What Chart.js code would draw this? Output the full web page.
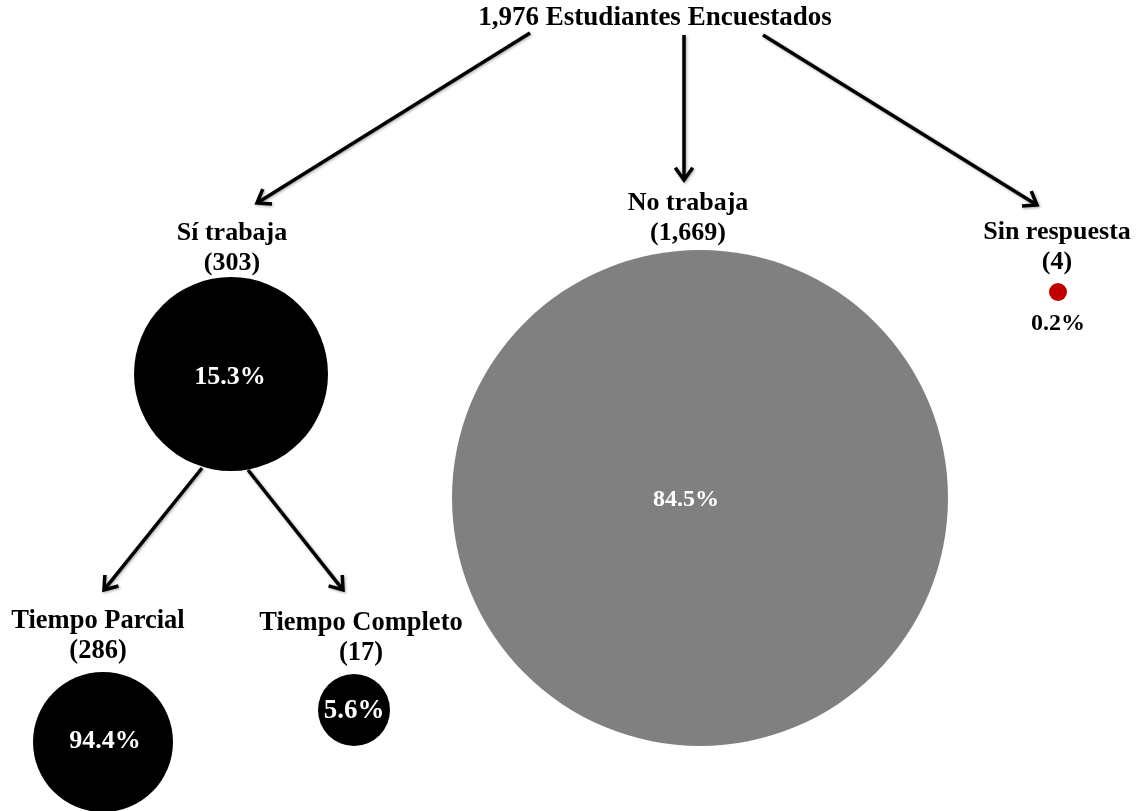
<!DOCTYPE html>
<html>
<head>
<meta charset="utf-8">
<script src="https://cdn.jsdelivr.net/npm/chart.js@4"></script>
<style>
  html, body { margin: 0; padding: 0; background: #ffffff; }
  #wrap { width: 1140px; height: 811px; position: relative; }
</style>
</head>
<body>
<div id="wrap"><canvas id="c"></canvas></div>
<script>
// ---- data ----
const titleTotal = 1976;
const titleText = 'Estudiantes Encuestados';
const categories = ['Sí trabaja', 'No trabaja', 'Sin respuesta', 'Tiempo Parcial', 'Tiempo Completo'];
const counts = [303, 1669, 4, 286, 17];
const percents = ['15.3%', '84.5%', '0.2%', '94.4%', '5.6%'];

// ---- layout (positions / sizes / styles) ----
const W = 1140, H = 811;
const nodeLayout = [
  { cx: 231, cy: 374, r: 97,  color: '#000000', lx: 232, ly: 233, px: 230, py: 377, pc: '#ffffff', fs: 26, ps: 26 },
  { cx: 700, cy: 498, r: 248, color: '#808080', lx: 688, ly: 203, px: 686, py: 500, pc: '#ffffff', fs: 26, ps: 24 },
  { cx: 1058, cy: 292, r: 9,  color: '#c00000', lx: 1057, ly: 232, px: 1058, py: 324, pc: '#000000', fs: 26, ps: 24 },
  { cx: 103, cy: 742, r: 70,  color: '#000000', lx: 98,  ly: 621, px: 105, py: 741, pc: '#ffffff', fs: 26.5, ps: 26 },
  { cx: 354, cy: 710, r: 36,  color: '#000000', lx: 361, ly: 623, px: 354, py: 711, pc: '#ffffff', fs: 26.5, ps: 27 }
];
const titlePos = { x: 655, y: 18, fs: 27 };
const arrows = [
  [530, 33, 257, 203],
  [684, 35, 684, 180],
  [763, 35, 1037, 205],
  [202, 468, 104, 590],
  [248, 470, 343, 590]
];
const fontOf = s => 'bold ' + s + 'px "Liberation Serif", "Times New Roman", serif';
const LINE_GAP = 30;

const fmt = n => n.toLocaleString('en-US');

const overlay = {
  id: 'overlay',
  afterDatasetsDraw(chart) {
    const ctx = chart.ctx;
    const xs = chart.scales.x, ys = chart.scales.y;
    const X = v => xs.getPixelForValue(v);
    const Y = v => ys.getPixelForValue(v);
    ctx.save();
    // arrows
    ctx.strokeStyle = '#000000';
    ctx.lineWidth = 3.5;
    ctx.lineCap = 'butt';
    ctx.lineJoin = 'miter';
    ctx.shadowColor = 'rgba(0,0,0,0.35)';
    ctx.shadowBlur = 3;
    ctx.shadowOffsetX = 1;
    ctx.shadowOffsetY = 1;
    arrows.forEach(a => {
      const x1 = X(a[0]), y1 = Y(a[1]), x2 = X(a[2]), y2 = Y(a[3]);
      const ang = Math.atan2(y2 - y1, x2 - x1);
      ctx.beginPath();
      ctx.moveTo(x1, y1);
      ctx.lineTo(x2 - Math.cos(ang) * 2, y2 - Math.sin(ang) * 2);
      ctx.stroke();
      const hl = 15, ha = 0.62;
      ctx.beginPath();
      ctx.moveTo(x2 - hl * Math.cos(ang - ha), y2 - hl * Math.sin(ang - ha));
      ctx.lineTo(x2, y2);
      ctx.lineTo(x2 - hl * Math.cos(ang + ha), y2 - hl * Math.sin(ang + ha));
      ctx.stroke();
    });
    ctx.shadowColor = 'transparent';
    ctx.shadowBlur = 0;
    ctx.shadowOffsetX = 0;
    ctx.shadowOffsetY = 0;
    // text
    ctx.textAlign = 'center';
    ctx.textBaseline = 'middle';
    ctx.fillStyle = '#000000';
    ctx.font = fontOf(titlePos.fs);
    ctx.fillText(fmt(titleTotal) + ' ' + titleText, X(titlePos.x), Y(titlePos.y));
    categories.forEach((cat, i) => {
      const L = nodeLayout[i];
      ctx.font = fontOf(L.fs);
      ctx.fillStyle = '#000000';
      ctx.fillText(cat, X(L.lx), Y(L.ly));
      ctx.fillText('(' + fmt(counts[i]) + ')', X(L.lx), Y(L.ly + LINE_GAP));
      ctx.font = fontOf(L.ps);
      ctx.fillStyle = L.pc;
      ctx.fillText(percents[i], X(L.px), Y(L.py));
    });
    ctx.restore();
  }
};

const canvas = document.getElementById('c');
canvas.width = W; canvas.height = H;
new Chart(canvas, {
  type: 'bubble',
  data: {
    datasets: [{
      data: categories.map((c, i) => ({ x: nodeLayout[i].cx, y: nodeLayout[i].cy, r: nodeLayout[i].r })),
      backgroundColor: nodeLayout.map(l => l.color),
      borderWidth: 0,
      hoverBorderWidth: 0,
      hoverRadius: 0,
      clip: false
    }]
  },
  options: {
    responsive: false,
    animation: false,
    devicePixelRatio: 1,
    layout: { padding: 0, autoPadding: false },
    plugins: { legend: { display: false }, tooltip: { enabled: false } },
    events: [],
    scales: {
      x: { type: 'linear', min: 0, max: W, display: false },
      y: { type: 'linear', min: 0, max: H, reverse: true, display: false }
    }
  },
  plugins: [overlay]
});
</script>
</body>
</html>
